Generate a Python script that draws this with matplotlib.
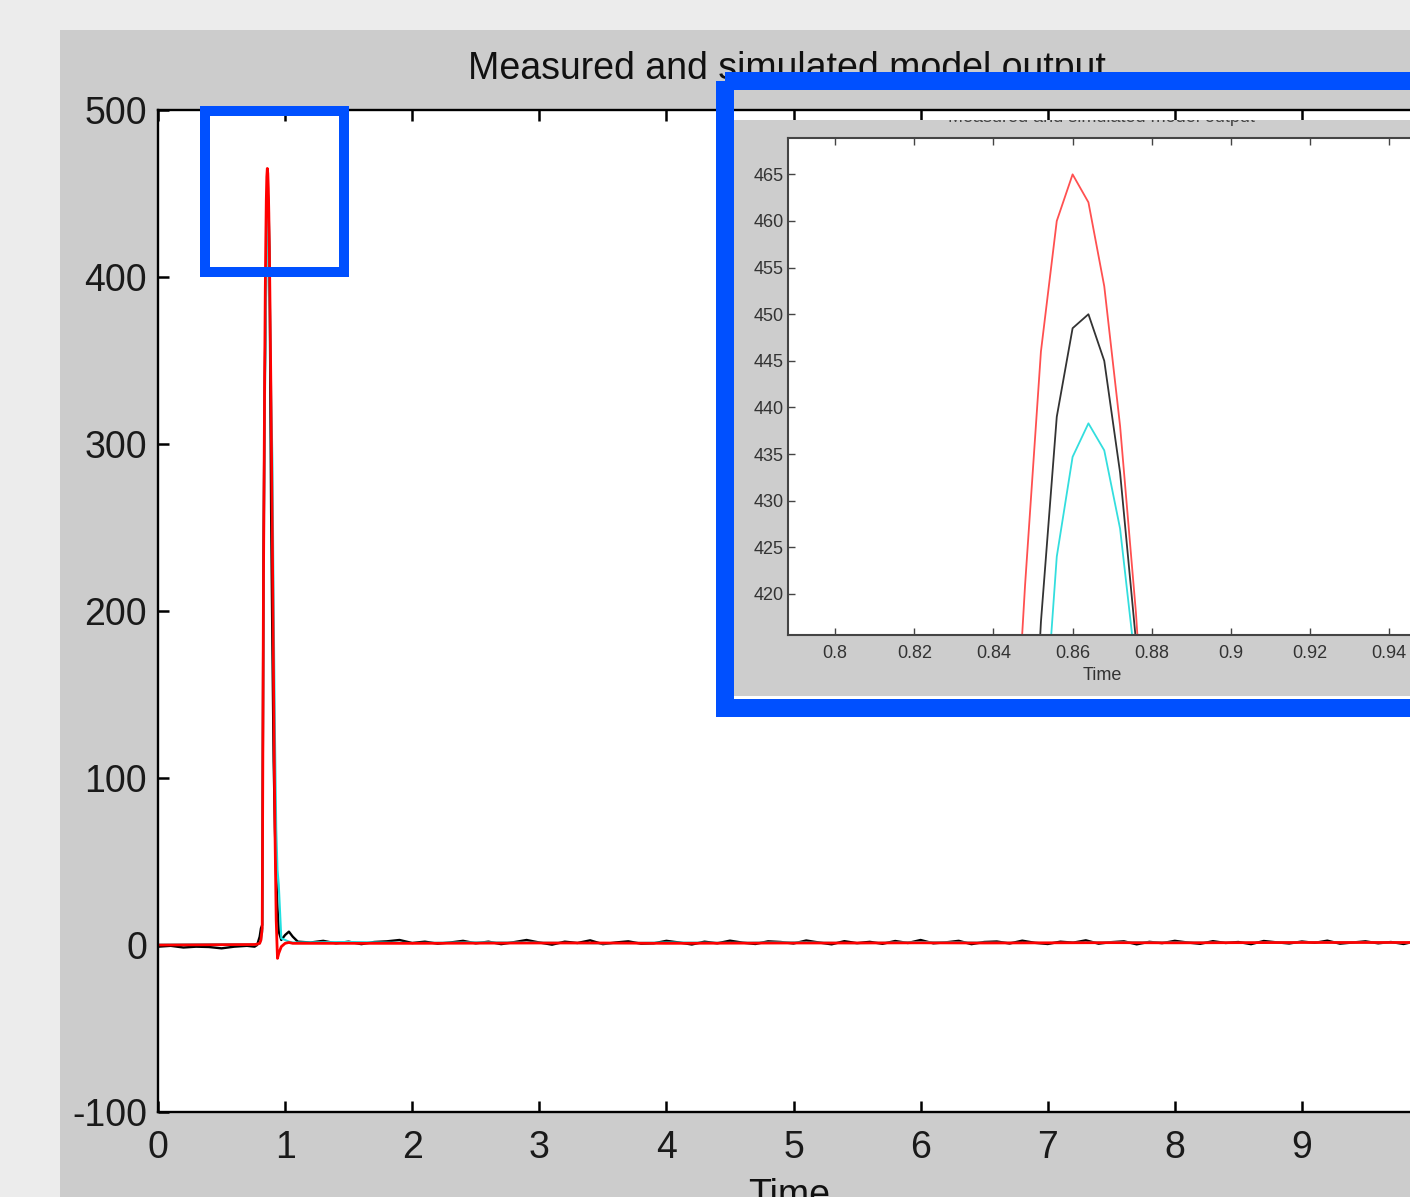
import numpy as np
import matplotlib
matplotlib.use("Agg")
import matplotlib.pyplot as plt
from matplotlib.patches import Rectangle
from matplotlib.ticker import FormatStrFormatter

# ---------------- data ----------------
title_text = "Measured and simulated model output"
xlabel_text = "Time"

x_ticks = [0, 1, 2, 3, 4, 5, 6, 7, 8, 9, 10]
y_ticks = [-100, 0, 100, 200, 300, 400, 500]
inset_x_ticks = [0.80, 0.82, 0.84, 0.86, 0.88, 0.90, 0.92, 0.94, 0.96]
inset_y_ticks = [420, 425, 430, 435, 440, 445, 450, 455, 460, 465]

# measured output, 0.1 s grid from 0 to 10 s (baseline noise)
measured_base = [-1.0, -0.5, -1.5, -1.0, -1.2, -2.0, -1.0, -0.5, 5.0, 3.0, 6.0, 2.0,
                 1.5, 2.5, 1.0, 2.0, 0.5, 1.8, 2.2, 3.0, 1.2, 2.0,
                 0.8, 1.5, 2.5, 1.0, 2.0, 0.5, 1.7, 3.0, 1.5, 0.2,
                 2.0, 1.2, 2.8, 0.5, 1.5, 2.2, 0.8, 1.0, 2.5, 1.5,
                 0.3, 2.0, 1.0, 2.6, 1.4, 0.6, 2.2, 1.8, 0.9, 2.7,
                 1.5, 0.4, 2.3, 1.1, 1.9, 0.7, 2.4, 1.2, 3.0, 1.0,
                 1.6, 2.5, 0.5, 1.8, 2.1, 0.9, 2.6, 1.3, 0.6, 2.0,
                 1.4, 2.8, 0.8, 1.7, 2.2, 0.4, 1.9, 1.1, 2.5, 1.5,
                 0.7, 2.3, 1.2, 1.8, 0.5, 2.4, 1.6, 0.9, 2.1, 1.3,
                 2.6, 0.8, 1.5, 2.2, 1.0, 1.8, 0.6, 2.3, 1.4]
# simulated outputs, 0.5 s grid from 0 to 10 s
sim_red_base = [0.0, 0.2, 1.0, 1.0, 1.0, 1.1, 1.2, 1.2, 1.0, 1.1, 1.2,
                1.2, 1.3, 1.2, 1.3, 1.4, 1.3, 1.4, 1.5, 1.5, 1.5]
sim_cyan_base = [0.2, 0.5, 1.5, 1.8, 1.2, 1.6, 1.4, 1.0, 1.5, 1.3, 1.6,
                 1.1, 1.7, 1.4, 1.2, 1.6, 1.5, 1.3, 1.7, 1.6, 1.4]

# pulse region
spike_time = [0.76, 0.78, 0.80, 0.81, 0.82, 0.83, 0.84, 0.844, 0.848, 0.852,
              0.856, 0.860, 0.864, 0.868, 0.872, 0.876, 0.88, 0.89, 0.90, 0.91,
              0.92, 0.93, 0.94, 0.95, 0.97, 1.00, 1.03, 1.06, 1.10]
measured_spike = [-1.0, 0.0, 5.0, 10.0, 12.0, 230.0, 340.0, 362.0, 385.0, 417.0,
                  439.0, 448.5, 450.0, 445.0, 433.0, 415.0, 380.0, 260.0, 180.0, 110.0,
                  70.0, 40.0, 22.0, 8.0, 3.0, 6.0, 8.0, 5.0, 2.0]
red_spike = [0.3, 0.5, 1.0, 3.0, 10.0, 220.0, 350.0, 392.0, 421.0, 446.0,
             460.0, 465.0, 462.0, 453.0, 438.0, 418.0, 392.0, 320.0, 240.0, 150.0,
             70.0, 15.0, -8.0, -5.0, -1.0, 1.0, 1.5, 1.0, 1.0]
cyan_spike = [0.3, 0.5, 1.0, 3.0, 8.0, 200.0, 320.0, 345.0, 370.0, 400.0,
              424.0, 434.7, 438.3, 435.4, 427.0, 412.0, 390.0, 330.0, 290.0, 200.0,
              125.0, 70.0, 45.0, 36.0, 4.0, 3.0, 2.0, 1.5, 1.5]


def merge(base_t, base_v, sp_t, sp_v):
    bt = np.asarray(base_t, float)
    bv = np.asarray(base_v, float)
    st = np.asarray(sp_t, float)
    sv = np.asarray(sp_v, float)
    keep = (bt < st.min() - 1e-9) | (bt > st.max() + 1e-9)
    t = np.concatenate([bt[keep], st])
    v = np.concatenate([bv[keep], sv])
    o = np.argsort(t)
    return t[o], v[o]


t_meas_grid = np.round(np.arange(len(measured_base)) * 0.1, 3)
t_sim_grid = np.round(np.arange(len(sim_red_base)) * 0.5, 3)
t_meas, y_meas = merge(t_meas_grid, measured_base, spike_time, measured_spike)
t_red, y_red = merge(t_sim_grid, sim_red_base, spike_time, red_spike)
t_cyan, y_cyan = merge(t_sim_grid, sim_cyan_base, spike_time, cyan_spike)

# ---------------- layout helpers ----------------
W, H = 1410, 1197
plt.rcParams['font.family'] = ['Liberation Sans', 'DejaVu Sans']


def rect_px(left, top, right, bottom):
    return [left / W, 1 - bottom / H, (right - left) / W, (bottom - top) / H]


fig = plt.figure(figsize=(W / 100, H / 100), dpi=100, facecolor='#ececec')

# background panel (gray MATLAB figure area)
bg = fig.add_axes([0, 0, 1, 1], zorder=-5)
bg.set_xlim(0, W)
bg.set_ylim(H, 0)
bg.axis('off')
bg.add_patch(Rectangle((60, 30), W, H, facecolor='#cccccc', edgecolor='none'))

# ---------------- main axes ----------------
ax = fig.add_axes(rect_px(158, 110, 1429, 1112), zorder=1)
ax.set_facecolor('white')
ax.plot(t_meas, y_meas, color='black', lw=1.7)
ax.plot(t_cyan, y_cyan, color='#20e0e0', lw=1.5)
ax.plot(t_red, y_red, color='#ff0000', lw=2.0)
ax.set_xlim(0, 10)
ax.set_ylim(-100, 500)
ax.set_xticks(x_ticks)
ax.set_yticks(y_ticks)
ax.xaxis.set_major_formatter(FormatStrFormatter('%g'))
ax.yaxis.set_major_formatter(FormatStrFormatter('%g'))
for s in ax.spines.values():
    s.set_linewidth(1.7)
    s.set_color('black')
ax.tick_params(direction='in', length=8, width=1.8, top=True, right=True,
               labelsize=27, labelcolor='#1a1a1a', color='black')
ax.tick_params(axis='x', pad=13)
ax.tick_params(axis='y', pad=8)

fig.text(787 / W, 1 - 69 / H, title_text, ha='center', va='center',
         fontsize=27, color='#111111')
fig.text(789 / W, 1 - 1178 / H, xlabel_text, ha='center', va='top',
         fontsize=27, color='#111111')

# ---------------- inset (zoomed screenshot) ----------------
panel = fig.add_axes(rect_px(734, 120, 1600, 696), zorder=6)
panel.set_facecolor('#cdcdcd')
panel.set_xticks([])
panel.set_yticks([])
for s in panel.spines.values():
    s.set_visible(False)
panel.text(1101 / W, 1 - 118 / H, title_text, transform=fig.transFigure,
           ha='center', va='center', fontsize=13, color='#444444', clip_on=True)

ins = fig.add_axes(rect_px(788, 138, 1508, 635), zorder=7)
ins.set_facecolor('white')
ins.plot(t_meas, y_meas, color='#333333', lw=1.3)
ins.plot(t_cyan, y_cyan, color='#33dede', lw=1.3)
ins.plot(t_red, y_red, color='#ff5050', lw=1.3)
ins.set_xlim(0.7881, 0.970)
ins.set_ylim(415.6, 468.9)
ins.set_xticks(inset_x_ticks)
ins.set_yticks(inset_y_ticks)
ins.xaxis.set_major_formatter(FormatStrFormatter('%g'))
ins.yaxis.set_major_formatter(FormatStrFormatter('%g'))
for s in ins.spines.values():
    s.set_linewidth(1.5)
    s.set_color('#444444')
ins.tick_params(direction='in', length=5, width=1.0, top=True, right=True,
                labelsize=13, labelcolor='#333333', color='#444444')
ins.tick_params(axis='x', pad=7)
ins.tick_params(axis='y', pad=3)
ins.text(1102 / W, 1 - 676 / H, xlabel_text, transform=fig.transFigure,
         ha='center', va='center', fontsize=13, color='#333333')

# ---------------- highlight frames ----------------
ov = fig.add_axes([0, 0, 1, 1], zorder=10)
ov.set_xlim(0, W)
ov.set_ylim(H, 0)
ov.axis('off')
ov.add_patch(Rectangle((725, 81), 900, 627, fill=False, edgecolor='#0050ff',
                       lw=18 * 0.72, joinstyle='miter'))
ov.add_patch(Rectangle((205, 111), 138.5, 160.5, fill=False, edgecolor='#0050ff',
                       lw=10 * 0.72, joinstyle='miter'))

fig.savefig('out.png', dpi=100, facecolor=fig.get_facecolor())
